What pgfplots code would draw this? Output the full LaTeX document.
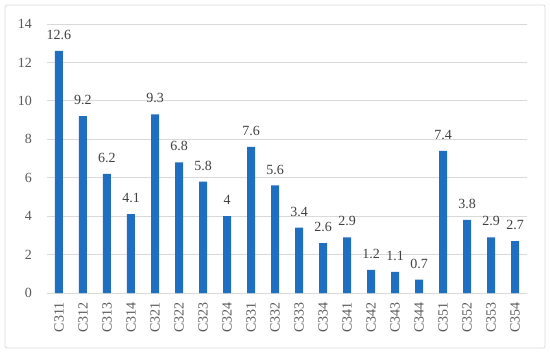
\documentclass[border=0pt]{standalone}
\usepackage{fontspec}
\setmainfont{Liberation Serif}
\usepackage{pgfplots}
\pgfplotsset{compat=1.18}
\definecolor{barblue}{HTML}{1F6FC1}
\definecolor{gridgray}{HTML}{D9D9D9}
\definecolor{txtgray}{HTML}{595959}
\definecolor{lblgray}{HTML}{404040}
\begin{document}
\begin{tikzpicture}
\path[use as bounding box] (-47bp,-60bp) rectangle (503bp,293bp);
\draw[gridgray, line width=0.8pt, rounded corners=2bp] (-42bp,-55bp) rectangle (498bp,288bp);
\begin{axis}[
  at={(0,0)}, anchor=south west,
  scale only axis, width=480bp, height=269bp,
  xmin=-0.5, xmax=19.5, ymin=0, ymax=14,
  ytick={0,2,...,14},
  xtick={0,...,19},
  xticklabels={C311,C312,C313,C314,C321,C322,C323,C324,C331,C332,C333,C334,C341,C342,C343,C344,C351,C352,C353,C354},
  x tick label style={rotate=90, anchor=east, font=\fontsize{14bp}{15bp}\selectfont, text=txtgray, inner sep=0pt},
  xticklabel shift=9bp,
  y tick label style={font=\fontsize{14bp}{15bp}\selectfont, text=txtgray, inner sep=0pt},
  yticklabel shift=15bp,
  /pgf/number format/assume math mode=true,
  axis line style={draw=none},
  major tick length=0pt,
  ymajorgrids, grid style={gridgray, line width=0.8pt},
  ybar, bar width=8bp,
  nodes near coords,
  nodes near coords style={font=\fontsize{14bp}{15bp}\selectfont, text=lblgray, inner sep=0pt, yshift=11bp},
  point meta=explicit symbolic,
  clip=false,
]
\addplot[fill=barblue, draw=none] coordinates {
(0,12.6) [12.6] (1,9.2) [9.2] (2,6.2) [6.2] (3,4.1) [4.1] (4,9.3) [9.3]
(5,6.8) [6.8] (6,5.8) [5.8] (7,4) [4] (8,7.6) [7.6] (9,5.6) [5.6]
(10,3.4) [3.4] (11,2.6) [2.6] (12,2.9) [2.9] (13,1.2) [1.2] (14,1.1) [1.1]
(15,0.7) [0.7] (16,7.4) [7.4] (17,3.8) [3.8] (18,2.9) [2.9] (19,2.7) [2.7]
};
\end{axis}
\end{tikzpicture}
\end{document}
